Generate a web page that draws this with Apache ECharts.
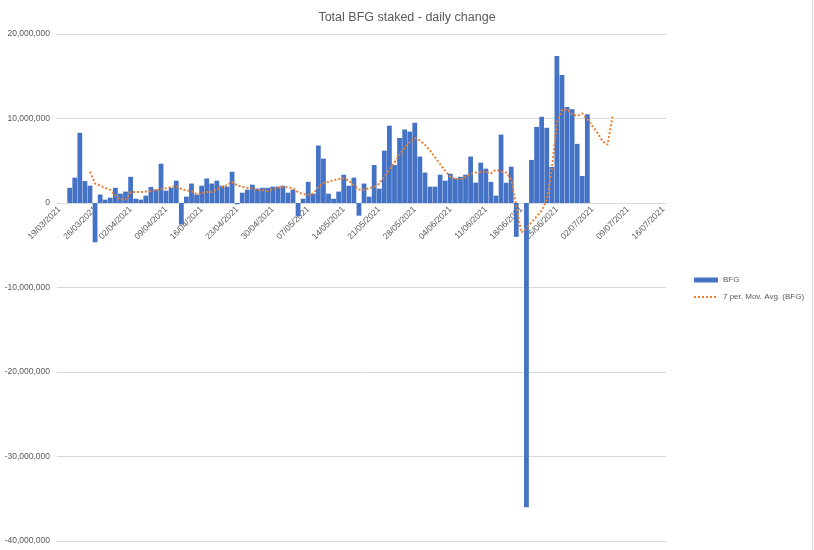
<!DOCTYPE html>
<html>
<head>
<meta charset="utf-8">
<script src="https://cdn.jsdelivr.net/npm/echarts@6/dist/echarts.min.js"></script>
<style>
  html, body { margin: 0; padding: 0; background: #fff; }
  #chart { width: 814px; height: 550px; }
</style>
</head>
<body>
<div id="chart"></div>
<script>
// category axis: one slot per day, 19/03/2021 .. 16/07/2021
var startDate = Date.UTC(2021, 2, 19);
var dayCount = 120;

// daily change in BFG staked, millions, first value is 21/03
var firstBarIndex = 2;
var dailyChange = [
    1.8, 3.0, 8.3, 2.6, 2.05, -4.65, 1.0, 0.4, 0.63, 1.8,
    1.1, 1.35, 3.1, 0.5, 0.4, 0.87, 1.9, 1.6, 4.65, 1.46,
    1.8, 2.64, -2.55, 0.75, 2.3, 1.0, 2.05, 2.9, 2.3, 2.64,
    2.05, 1.93, 3.7, -0.15, 1.22, 1.58, 2.17, 1.7, 1.8, 1.8,
    1.93, 1.93, 2.05, 1.22, 1.58, -1.58, 0.5, 2.5, 1.1, 6.8,
    5.25, 1.1, 0.5, 1.35, 3.35, 2.05, 3.0, -1.5, 2.3, 0.75,
    4.5, 1.7, 6.2, 9.15, 4.5, 7.7, 8.7, 8.45, 9.5, 5.5,
    3.6, 1.93, 1.93, 3.35, 2.64, 3.47, 2.9, 3.1, 3.35, 5.5,
    2.4, 4.77, 4.06, 2.5, 0.87, 8.1, 2.4, 4.3, -4.0, null,
    -36.0, 5.1, 9.0, 10.2, 8.9, 4.26, 17.4, 15.15, 11.36, 11.1,
    7.0, 3.2, 10.5
];

// 7 period moving average trendline, millions, first value is 25/03
var firstAvgIndex = 6;
var movingAvg = [
    3.7, 2.3, 2.05, 1.8, 1.55, 0.9, 0.4, 0.4, 1.3, 1.3,
    1.3, 1.35, 1.4, 1.5, 1.65, 1.75, 1.9, 2.0, 1.65, 1.5,
    1.4, 1.05, 1.15, 1.3, 1.3, 1.6, 1.9, 2.1, 2.5, 2.1,
    1.9, 1.8, 1.7, 1.55, 1.5, 1.4, 1.6, 1.8, 1.9, 1.85,
    1.75, 1.25, 1.05, 1.0, 1.1, 1.9, 2.35, 2.5, 2.7, 2.85,
    2.9, 2.65, 2.1, 1.6, 1.58, 1.75, 1.9, 2.3, 3.1, 4.0,
    4.8, 5.7, 6.5, 7.2, 7.7, 7.4, 6.9, 6.2, 5.4, 4.6,
    3.8, 3.1, 2.85, 2.8, 3.1, 3.45, 3.6, 3.7, 3.7, 3.5,
    3.95, 3.7, 3.6, 2.8, null, -3.5, -3.0, -2.3, -1.6, -0.9,
    0.3, 4.0, 9.5, 11.0, 11.1, 10.5, 10.3, 10.6, 9.9, 9.1,
    8.3, 7.3, 6.9, 10.4
];

var yTicks = [-40, -30, -20, -10, 0, 10, 20];

function pad(n) { return n < 10 ? '0' + n : '' + n; }

var dates = [];
for (var i = 0; i < dayCount; i++) {
    var d = new Date(startDate + i * 86400000);
    dates.push(pad(d.getUTCDate()) + '/' + pad(d.getUTCMonth() + 1) + '/' + d.getUTCFullYear());
}

function placeOnAxis(values, offset) {
    var out = [];
    for (var i = 0; i < dayCount; i++) {
        var v = values[i - offset];
        out.push(v === undefined || v === null ? null : Math.round(v * 1e6));
    }
    return out;
}

var barData = placeOnAxis(dailyChange, firstBarIndex);
var avgData = placeOnAxis(movingAvg, firstAvgIndex);

var textGrey = '#595959';
var gridGrey = '#d9d9d9';
var fontName = 'Liberation Sans';

// grid geometry, the date axis sits on the zero line
var gridTop = 34, gridBottom = 9, chartHeight = 550;
var plotHeight = chartHeight - gridTop - gridBottom;
var yMin = yTicks[0], yMax = yTicks[yTicks.length - 1];
var zeroLift = Math.round(plotHeight * (0 - yMin) / (yMax - yMin));

var myChart = echarts.init(document.getElementById('chart'));

myChart.setOption({
    animation: false,
    title: {
        text: 'Total BFG staked - daily change',
        left: 'center',
        top: 6,
        textStyle: { fontFamily: fontName, fontSize: 12.5, fontWeight: 'normal', color: textGrey }
    },
    legend: {
        orient: 'vertical',
        left: 688,
        top: 271,
        itemWidth: 24,
        itemHeight: 5,
        itemGap: 9,
        textStyle: { fontFamily: fontName, fontSize: 8, color: textGrey },
        data: [
            { name: 'BFG', icon: 'rect' },
            { name: '7 per. Mov. Avg. (BFG)', itemStyle: { opacity: 0 } }
        ]
    },
    grid: { left: 57, right: 148, top: gridTop, bottom: gridBottom, outerBoundsMode: 'none' },
    xAxis: {
        type: 'category',
        data: dates,
        boundaryGap: true,
        position: 'bottom',
        offset: -zeroLift,
        z: 0,
        axisLine: { onZero: false, lineStyle: { color: gridGrey } },
        axisTick: { show: false },
        splitLine: { show: false },
        axisLabel: {
            interval: 6,
            rotate: 45,
            margin: 5,
            fontFamily: fontName,
            fontSize: 8.5,
            color: textGrey
        }
    },
    yAxis: {
        type: 'value',
        min: yMin * 1e6,
        max: yMax * 1e6,
        interval: 10e6,
        axisLine: { show: false },
        axisTick: { show: false },
        splitLine: { lineStyle: { color: gridGrey } },
        axisLabel: {
            margin: 7,
            fontFamily: fontName,
            fontSize: 8.5,
            color: textGrey,
            formatter: function (v) { return v.toLocaleString('en-US'); }
        }
    },
    series: [
        {
            name: 'BFG',
            type: 'bar',
            z: 5,
            data: barData,
            barCategoryGap: '6%',
            itemStyle: { color: '#4472C4' }
        },
        {
            name: '7 per. Mov. Avg. (BFG)',
            type: 'line',
            z: 6,
            data: avgData,
            connectNulls: true,
            symbol: 'none',
            lineStyle: { color: '#ED7D31', width: 2, type: [2, 2] },
            itemStyle: { color: '#ED7D31' }
        }
    ],
    graphic: [
        {
            type: 'line',
            shape: { x1: 812.5, y1: 0, x2: 812.5, y2: 550 },
            style: { stroke: gridGrey, lineWidth: 1 }
        }
    ]
});
</script>
</body>
</html>
